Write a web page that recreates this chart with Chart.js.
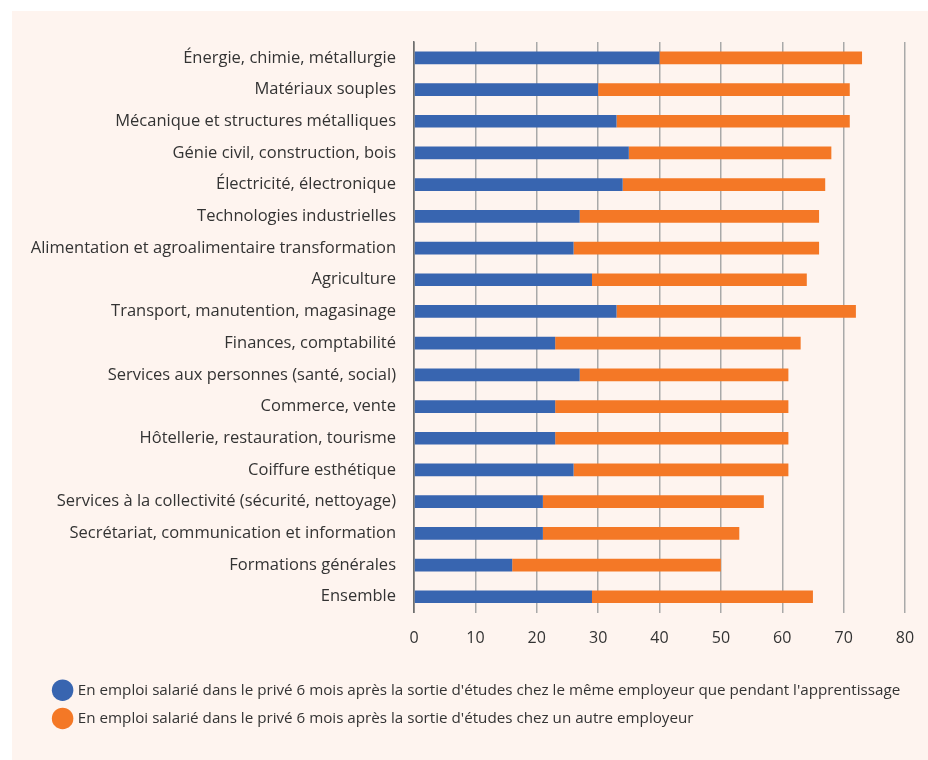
<!DOCTYPE html>
<html lang="fr">
<head>
<meta charset="utf-8">
<script src="https://cdn.jsdelivr.net/npm/chart.js@4.4.1/dist/chart.umd.min.js"></script>
<style>
  html, body { margin: 0; padding: 0; background: #ffffff; }
  #panel {
    position: absolute; left: 12px; top: 11px;
    width: 916px; height: 749px;
    background: #fef4ef;
  }
  #chart { display: block; }
</style>
</head>
<body>
<div id="panel"><canvas id="chart" width="916" height="749"></canvas></div>
<script>
    // ---------- DONNÉES ----------
    const secteurs = [
        "Énergie, chimie, métallurgie",
        "Matériaux souples",
        "Mécanique et structures métalliques",
        "Génie civil, construction, bois",
        "Électricité, électronique",
        "Technologies industrielles",
        "Alimentation et agroalimentaire transformation",
        "Agriculture",
        "Transport, manutention, magasinage",
        "Finances, comptabilité",
        "Services aux personnes (santé, social)",
        "Commerce, vente",
        "Hôtellerie, restauration, tourisme",
        "Coiffure esthétique",
        "Services à la collectivité (sécurité, nettoyage)",
        "Secrétariat, communication et information",
        "Formations générales",
        "Ensemble"
    ];

    // même employeur que pendant l'apprentissage
    const memeEmployeur = [40, 30, 33, 35, 34, 27, 26, 29, 33, 23, 27, 23, 23, 26, 21, 21, 16, 29];
    // un autre employeur
    const autreEmployeur = [33, 41, 38, 33, 33, 39, 40, 35, 39, 40, 34, 38, 38, 35, 36, 32, 34, 36];

    const ticksX = [0, 10, 20, 30, 40, 50, 60, 70, 80];

    const legendes = [
        "En emploi salarié dans le privé 6 mois après la sortie d'études chez le même employeur que pendant l'apprentissage",
        "En emploi salarié dans le privé 6 mois après la sortie d'études chez un autre employeur"
    ];

    const FONTE = "'Open Sans', 'Noto Sans', sans-serif";
    const TEXTE = "#333333";

    // décale la légende vers la droite (le graphique garde toute la largeur pour les libellés)
    const decalageLegende = {
        id: "decalageLegende",
        afterLayout(chart) {
            if (chart.legend) chart.legend.left += 30;
        }
    };

    // ---------- GRAPHIQUE ----------
    function renderizarGrafico() {
        const ctx = document.getElementById("chart").getContext("2d");
        new Chart(ctx, {
            type: "bar",
            data: {
                labels: secteurs,
                datasets: [
                    {
                        label: legendes[0],
                        data: memeEmployeur,
                        backgroundColor: "#3865b0",
                        pointStyle: "circle"
                    },
                    {
                        label: legendes[1],
                        data: autreEmployeur,
                        backgroundColor: "#f47826",
                        pointStyle: "circle"
                    }
                ]
            },
            options: {
                indexAxis: "y",
                responsive: false,
                animation: false,
                categoryPercentage: 1,
                barPercentage: 0.4,
                layout: { padding: { left: 0, top: 31, right: 23, bottom: 24 } },
                scales: {
                    x: {
                        stacked: true,
                        min: 0,
                        max: 80,
                        afterBuildTicks: (scale) => {
                            scale.ticks = ticksX.map(v => ({ value: v }));
                        },
                        afterFit: (scale) => {
                            scale.height = 57;
                            scale.paddingRight = 0;
                        },
                        grid: {
                            color: (c) => c.tick && c.tick.value === 0 ? "#6f6f6f" : "#a9a9a9",
                            lineWidth: 1.5,
                            drawTicks: false
                        },
                        border: { display: false },
                        ticks: {
                            padding: 16,
                            color: TEXTE,
                            font: { family: FONTE, size: 16 }
                        }
                    },
                    y: {
                        stacked: true,
                        afterFit: (scale) => { scale.width = 402; },
                        grid: { display: false, drawTicks: false },
                        border: { display: true, color: "#6f6f6f", width: 1.5 },
                        ticks: {
                            padding: 18,
                            color: TEXTE,
                            autoSkip: false,
                            font: { family: FONTE, size: 16.5 }
                        }
                    }
                },
                plugins: {
                    legend: {
                        position: "bottom",
                        align: "start",
                        labels: {
                            usePointStyle: true,
                            padding: 13,
                            color: TEXTE,
                            font: { family: FONTE, size: 15.2 }
                        }
                    },
                    tooltip: { enabled: false }
                }
            },
            plugins: [decalageLegende]
        });
    }

    renderizarGrafico();
</script>
</body>
</html>
